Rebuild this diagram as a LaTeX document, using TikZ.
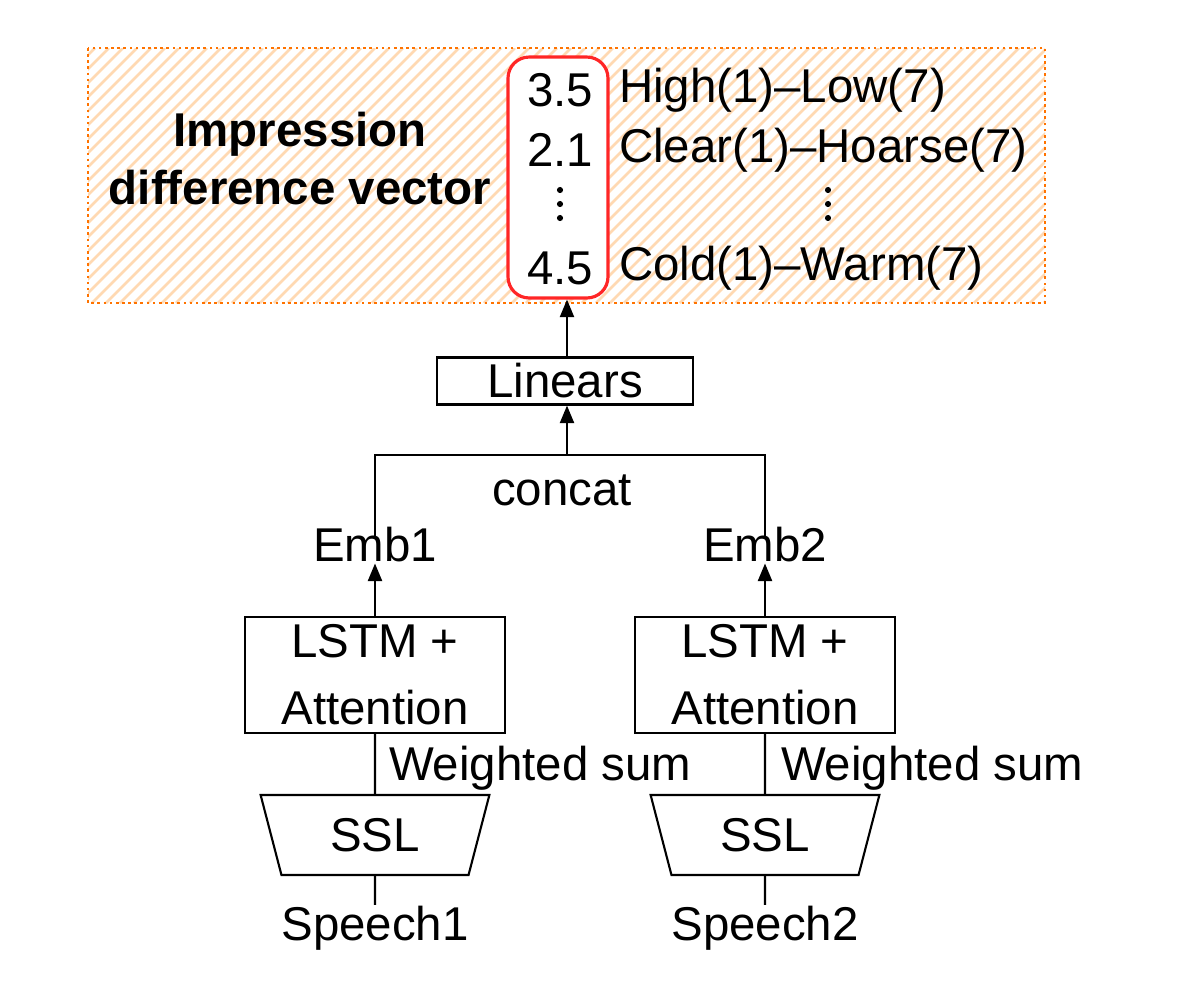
\documentclass[tikz,border=0pt]{standalone}
\usepackage{fontspec}
\setmainfont{Liberation Sans}
\usetikzlibrary{positioning,shapes.geometric,arrows.meta}

\begin{document}
\begin{tikzpicture}[x=0.02cm,y=-0.02cm,>={Triangle[length=10pt,width=8pt]},
    font=\fontsize{27}{33}\selectfont,line width=1.2pt]
  \tikzset{
    blk/.style={draw,minimum height=1.5cm,align=center,inner sep=0pt},
    txt/.style={inner sep=0pt},
    dot/.style={fill,circle,inner sep=0pt,minimum size=3.5pt},
    ssl/.style={draw,trapezium,trapezium stretches=true,shape border rotate=180,
      minimum width=4.6cm,minimum height=1.6cm,trapezium left angle=76,trapezium right angle=76}
  }
  \useasboundingbox (0,0) rectangle (1200,992);
  % hatched output area
  \begin{scope}
    \clip (88,48) rectangle (1045,303);
    \foreach \i in {-300,-286,...,1060}
      \draw[orange!30,line width=1.5pt] (\i,303) -- (\i+255,48);
  \end{scope}
  \draw[orange!90!red,dotted,line width=1.5pt] (88,48) rectangle (1045,303);
  \node[txt,font=\fontsize{27}{33}\selectfont\bfseries,align=center] (title) at (300,159)
    {Impression\\difference vector};
  \node[draw=red!85,fill=white,rounded corners=12pt,line width=1.8pt,minimum width=2cm,minimum height=4.82cm] (vec) at (558,177.5) {};
  \node[txt] (v1) at (560,90) {3.5};
  \node[txt] (v2) at (560,150) {2.1};
  \node[txt] (v4) at (560,268) {4.5};
  \node[txt,anchor=west] (l1) at (618,90) {High(1)--Low(7)};
  \node[txt,anchor=west] (l2) at (618,150) {Clear(1)--Hoarse(7)};
  \node[txt,anchor=west] (l4) at (618,268) {Cold(1)--Warm(7)};
  % vertical dots
  \foreach \y in {190,204,218} {
    \node[dot] at (560,\y) {};
    \node[dot] at (828,\y) {};
  }
  % network
  \node[draw,minimum width=5.12cm,minimum height=0.94cm,inner sep=0pt] (lin) at (565,381) {Linears};
  \node[txt] (concat) at (562,490) {concat};
  \node[txt] (emb1) at (375,545) {Emb1};
  \node[txt] (emb2) at (765,545) {Emb2};
  \node[blk,minimum width=5.2cm,minimum height=2.32cm,font=\fontsize{27}{38}\selectfont] (lstm1) at (375,675) {LSTM +\\Attention};
  \node[blk,minimum width=5.2cm,minimum height=2.32cm,font=\fontsize{27}{38}\selectfont] (lstm2) at (765,675) {LSTM +\\Attention};
  \node[ssl] (ssl1) at (375,835) {SSL};
  \node[ssl] (ssl2) at (765,835) {SSL};
  \node[txt] (sp1) at (375,928) {Speech1};
  \node[txt] (sp2) at (765,928) {Speech2};
  \node[txt,anchor=west] (ws1) at (388,768) {Weighted sum};
  \node[txt,anchor=west] (ws2) at (780,768) {Weighted sum};
  \coordinate (j) at (567,455);
  % connectors
  \draw (sp1.north) -- (ssl1.south);
  \draw (sp2.north) -- (ssl2.south);
  \draw (ssl1.north) -- (lstm1.south);
  \draw (ssl2.north) -- (lstm2.south);
  \draw[->] (lstm1.north) -- (emb1.south);
  \draw[->] (lstm2.north) -- (emb2.south);
  \draw ([yshift=-12*0.02cm]emb1.north) |- (j) -| ([yshift=-12*0.02cm]emb2.north);
  \draw[->] (j) -- (j|-lin.south);
  \draw[->] (lin.north-|j) -- (j|-vec.south);
\end{tikzpicture}
\end{document}
